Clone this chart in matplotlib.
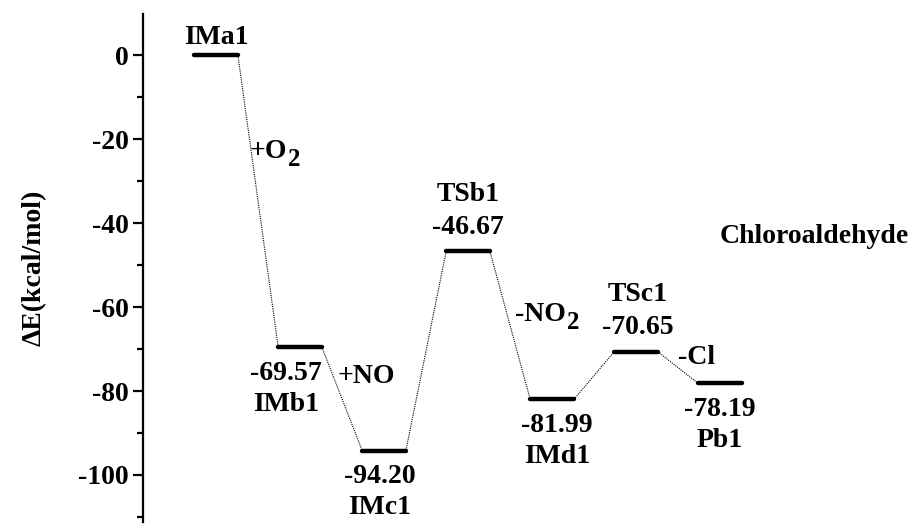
import numpy as np
import matplotlib
matplotlib.use('Agg')
import matplotlib.pyplot as plt

plt.rcParams['font.family'] = ['Liberation Serif', 'DejaVu Serif']
plt.rcParams['font.weight'] = 'bold'
plt.rcParams['axes.unicode_minus'] = False

# species along the pathway
names = ['IMa1', 'IMb1', 'IMc1', 'TSb1', 'IMd1', 'TSc1', 'Pb1']
energies = [0.0, -69.57, -94.20, -46.67, -81.99, -70.65, -78.19]
value_text = ['', '-69.57', '-94.20', '-46.67', '-81.99', '-70.65', '-78.19']
label_above = [True, False, False, True, False, True, False]
label_dx = [0, -14, -4, 0, 5, 2, 0]   # px shift of labels from bar centre

# reaction step annotations (text, subscript, x, baseline y in data units)
steps = ['+O', '+NO', '-NO', '-Cl']
step_sub = ['2', '', '2', '']
step_x = [1.40, 2.45, 4.56, 6.50]
step_y = [-24.4, -78.0, -63.4, -73.6]

W, H = 917, 525
fig = plt.figure(figsize=(W / 100, H / 100), dpi=100)
ax = fig.add_axes([143 / W, 3 / H, 1 - 143 / W, 1 - 17 / H])

xs = np.arange(1, len(names) + 1)
hw = 0.26
fs = 20
pt = 0.72  # points per pixel at 100 dpi

for i, (x, e) in enumerate(zip(xs, energies)):
    ax.plot([x - hw, x + hw], [e, e], color='black', lw=3.2, solid_capstyle='round')
    if i < len(xs) - 1:
        ax.plot([x + hw, xs[i + 1] - hw], [e, energies[i + 1]], color='black', lw=0.8, ls=(0, (1, 1)))
    dx = label_dx[i] * pt
    if label_above[i]:
        if value_text[i]:
            ax.annotate(value_text[i], (x, e), xytext=(dx, 24 * pt), textcoords='offset points',
                        ha='center', va='center', fontsize=fs, fontweight='bold')
            ax.annotate(names[i], (x, e), xytext=(dx, 57 * pt), textcoords='offset points',
                        ha='center', va='center', fontsize=fs, fontweight='bold')
        else:
            ax.annotate(names[i], (x, e), xytext=(dx, 18 * pt), textcoords='offset points',
                        ha='center', va='center', fontsize=fs, fontweight='bold')
    else:
        ax.annotate(value_text[i], (x, e), xytext=(dx, -26 * pt), textcoords='offset points',
                    ha='center', va='center', fontsize=fs, fontweight='bold')
        ax.annotate(names[i], (x, e), xytext=(dx, -57 * pt), textcoords='offset points',
                    ha='center', va='center', fontsize=fs, fontweight='bold')

step_texts = []
for s, x, y in zip(steps, step_x, step_y):
    step_texts.append(ax.text(x, y, s, ha='left', va='baseline', fontsize=fs, fontweight='bold'))

ax.text(7.0, -43.1, 'Chloroaldehyde', ha='left', va='center', fontsize=fs, fontweight='bold')

ax.set_xlim(0.13, 1 + (W - 216) / 84)
ax.set_ylim(-111.2, 9.8)
ax.set_yticks([0, -20, -40, -60, -80, -100])
ax.set_yticks(np.arange(-110, 10, 10), minor=True)
ax.set_xticks([])
for side in ['top', 'right', 'bottom']:
    ax.spines[side].set_visible(False)
ax.spines['left'].set_linewidth(1.6)
ax.tick_params(axis='y', which='major', length=7, width=1.6, labelsize=fs, direction='out')
ax.tick_params(axis='y', which='minor', length=4.5, width=1.6, direction='out')
for t in ax.get_yticklabels():
    t.set_fontweight('bold')
ax.set_ylabel('ΔE(kcal/mol)', fontsize=fs, fontweight='bold', labelpad=22)

# subscripts placed right after the main text
fig.canvas.draw()
renderer = fig.canvas.get_renderer()
for t, sub in zip(step_texts, step_sub):
    if not sub:
        continue
    bb = t.get_window_extent(renderer)
    x0, y0 = t.get_position()
    ydisp = ax.transData.transform((x0, y0))[1]
    fig.text(bb.x1 / W + 1 / W, (ydisp - 8) / H, sub, ha='left', va='baseline',
             fontsize=18, fontweight='bold')

fig.savefig('out.png', dpi=100)
